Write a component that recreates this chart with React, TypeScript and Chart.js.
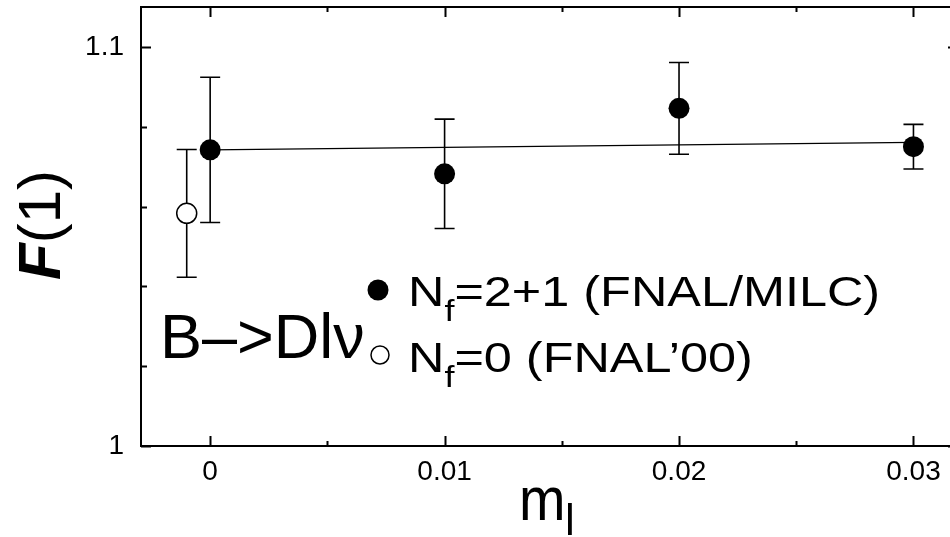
import React, { useEffect, useRef } from 'react';
import { Chart, registerables } from 'chart.js';

Chart.register(...registerables);

// ---- data ----
const mlValues = [0, 0.01, 0.02, 0.03];
const f1Values = [1.0742, 1.0682, 1.0846, 1.075];
const f1Errors = [0.0182, 0.0137, 0.0115, 0.0056];

const quenchedMl = [-0.001];
const quenchedF1 = [1.0583];
const quenchedErr = [0.016];

const fitMl = [0, 0.03];
const fitF1 = [1.0742, 1.0761];

const xMajorTicks = [0, 0.01, 0.02, 0.03];
const xTickLabels = ['0', '0.01', '0.02', '0.03'];
const xMinorTicks = [0.005, 0.015, 0.025];
const yMajorTicks = [1.0, 1.1];
const yTickLabels = ['1', '1.1'];
const yMinorTicks = [1.02, 1.04, 1.06, 1.08];

const xMin = -0.00295;
const xMax = 0.0319;
const yMin = 1.0;
const yMax = 1.11;

const FONT = '"Liberation Sans", Arial, Helvetica, sans-serif';

function drawText(ctx: CanvasRenderingContext2D, text: string, x: number, y: number, font: string, sx = 1) {
  ctx.save();
  ctx.font = font;
  ctx.translate(x, y);
  ctx.scale(sx, 1);
  ctx.fillText(text, 0, 0);
  const w = ctx.measureText(text).width * sx;
  ctx.restore();
  return w;
}

const decorPlugin = {
  id: 'decor',
  beforeDatasetsDraw(chart: any) {
    const { ctx } = chart;
    const xs = chart.scales.x;
    const ys = chart.scales.y;
    ctx.save();
    ctx.strokeStyle = '#000';
    ctx.lineWidth = 1.6;
    const bars = (xv: number[], yv: number[], ev: number[]) => {
      xv.forEach((v, i) => {
        const px = xs.getPixelForValue(v);
        const top = ys.getPixelForValue(yv[i] + ev[i]);
        const bot = ys.getPixelForValue(yv[i] - ev[i]);
        ctx.beginPath();
        ctx.moveTo(px, top);
        ctx.lineTo(px, bot);
        ctx.moveTo(px - 10, top);
        ctx.lineTo(px + 10, top);
        ctx.moveTo(px - 10, bot);
        ctx.lineTo(px + 10, bot);
        ctx.stroke();
      });
    };
    bars(mlValues, f1Values, f1Errors);
    bars(quenchedMl, quenchedF1, quenchedErr);
    ctx.restore();
  },
  afterDraw(chart: any) {
    const { ctx, chartArea } = chart;
    const xs = chart.scales.x;
    const ys = chart.scales.y;
    const { left, right, top, bottom } = chartArea;
    ctx.save();
    ctx.strokeStyle = '#000';
    ctx.lineWidth = 2;
    ctx.strokeRect(left, top, right - left, bottom - top);
    ctx.beginPath();
    const xt = (v: number, len: number) => {
      const px = Math.round(xs.getPixelForValue(v)) + 0.5;
      ctx.moveTo(px, bottom);
      ctx.lineTo(px, bottom - len);
      ctx.moveTo(px, top);
      ctx.lineTo(px, top + len);
    };
    const yt = (v: number, len: number) => {
      const py = Math.round(ys.getPixelForValue(v)) + 0.5;
      ctx.moveTo(left, py);
      ctx.lineTo(left + len, py);
      ctx.moveTo(right, py);
      ctx.lineTo(right - len, py);
    };
    xMajorTicks.forEach((v) => xt(v, 10));
    xMinorTicks.forEach((v) => xt(v, 5));
    yMajorTicks.forEach((v) => yt(v, 10));
    yMinorTicks.forEach((v) => yt(v, 6));
    ctx.stroke();

    ctx.fillStyle = '#000';
    ctx.textBaseline = 'alphabetic';
    ctx.textAlign = 'left';

    // y-axis title F(1)
    ctx.save();
    ctx.translate(60, 280);
    ctx.rotate(-Math.PI / 2);
    const wF = drawText(ctx, 'F', 0, 0, `italic bold 60px ${FONT}`);
    drawText(ctx, '(1)', wF, 0, `60px ${FONT}`);
    ctx.restore();

    // x-axis title m_l
    drawText(ctx, 'm', 519, 520, `62px ${FONT}`, 0.9);
    drawText(ctx, 'l', 565, 535, `44px ${FONT}`);

    // process label
    drawText(ctx, 'B–>Dlν', 160, 358, `63px ${FONT}`);

    // legend
    const legendRow = (baseline: number, rest: string) => {
      let x = 408;
      x += drawText(ctx, 'N', x, baseline, `42px ${FONT}`, 1.2);
      x += drawText(ctx, 'f', x, baseline + 15, `30px ${FONT}`, 1.2);
      drawText(ctx, rest, x, baseline, `42px ${FONT}`, 1.2);
    };
    legendRow(306, '=2+1 (FNAL/MILC)');
    legendRow(372, '=0 (FNAL’00)');

    ctx.beginPath();
    ctx.arc(378, 290, 10.5, 0, Math.PI * 2);
    ctx.fill();
    ctx.beginPath();
    ctx.arc(380, 355, 9, 0, Math.PI * 2);
    ctx.fillStyle = '#fff';
    ctx.fill();
    ctx.lineWidth = 1.5;
    ctx.strokeStyle = '#000';
    ctx.stroke();
    ctx.restore();
  },
};

export default function App() {
  const canvasRef = useRef<HTMLCanvasElement | null>(null);

  useEffect(() => {
    if (!canvasRef.current) return;
    const chart = new Chart(canvasRef.current, {
      type: 'scatter',
      data: {
        datasets: [
          {
            type: 'scatter',
            label: 'Nf=2+1 (FNAL/MILC)',
            data: mlValues.map((v, i) => ({ x: v, y: f1Values[i] })),
            pointRadius: 10.5,
            pointBackgroundColor: '#000',
            pointBorderColor: '#000',
            pointBorderWidth: 0,
            order: 0,
          },
          {
            type: 'scatter',
            label: "Nf=0 (FNAL'00)",
            data: quenchedMl.map((v, i) => ({ x: v, y: quenchedF1[i] })),
            pointRadius: 10,
            pointBackgroundColor: '#fff',
            pointBorderColor: '#000',
            pointBorderWidth: 1.5,
            order: 0,
          },
          {
            type: 'line',
            label: 'fit',
            data: fitMl.map((v, i) => ({ x: v, y: fitF1[i] })),
            borderColor: '#000',
            borderWidth: 1.2,
            pointRadius: 0,
            fill: false,
            order: 1,
          },
        ],
      } as any,
      options: {
        animation: false,
        responsive: false,
        events: [],
        layout: { autoPadding: false, padding: { top: 7, right: 12, left: 0, bottom: 0 } },
        plugins: { legend: { display: false }, tooltip: { enabled: false } },
        scales: {
          x: {
            type: 'linear',
            min: xMin,
            max: xMax,
            afterFit: (s: any) => {
              s.height = 91;
              s.paddingLeft = 0;
              s.paddingRight = 0;
            },
            afterBuildTicks: (s: any) => { s.ticks = xMajorTicks.map((v) => ({ value: v })); },
            grid: { display: false, drawTicks: false },
            border: { display: false },
            ticks: {
              padding: 9,
              color: '#000',
              font: { family: FONT, size: 28 },
              maxRotation: 0,
              callback: (_v: any, i: number) => xTickLabels[i],
            },
          },
          y: {
            type: 'linear',
            min: yMin,
            max: yMax,
            afterFit: (s: any) => {
              s.width = 141;
              s.paddingTop = 0;
              s.paddingBottom = 0;
            },
            afterBuildTicks: (s: any) => { s.ticks = yMajorTicks.map((v) => ({ value: v })); },
            grid: { display: false, drawTicks: false },
            border: { display: false },
            ticks: {
              padding: 17,
              color: '#000',
              font: { family: FONT, size: 28 },
              callback: (_v: any, i: number) => yTickLabels[i],
            },
          },
        },
      } as any,
      plugins: [decorPlugin],
    });
    return () => chart.destroy();
  }, []);

  return (
    <div style={{ position: 'absolute', left: 0, top: 0, width: 950, height: 537, overflow: 'hidden', background: '#fff' }}>
      <canvas ref={canvasRef} width={970} height={537} style={{ display: 'block', width: 970, height: 537 }} />
    </div>
  );
}
